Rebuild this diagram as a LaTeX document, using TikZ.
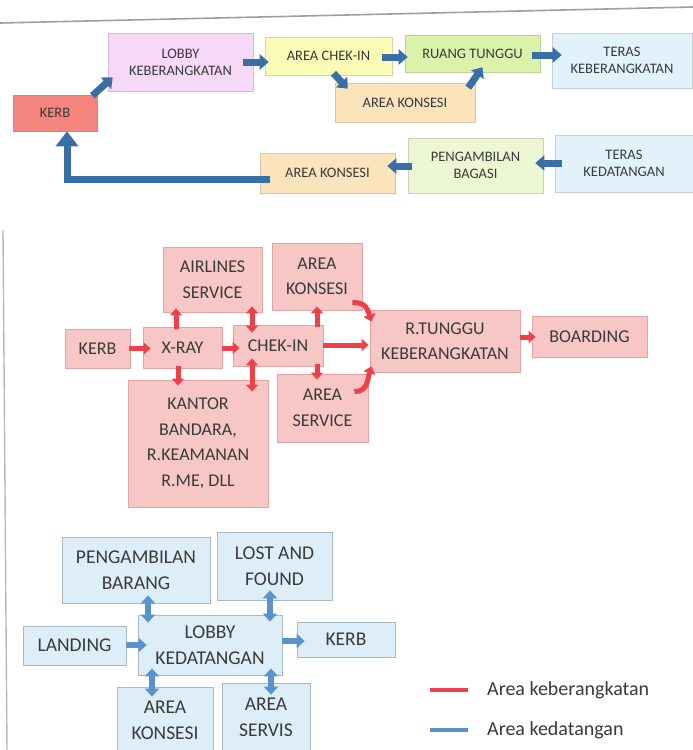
\documentclass[tikz,border=0pt]{standalone}
\usepackage{fontspec}
\setmainfont{Carlito}
\usetikzlibrary{arrows.meta,calc}
\definecolor{kerbred}{HTML}{F4857E}
\definecolor{lobbypink}{HTML}{F6D8F7}
\definecolor{chekyel}{HTML}{FAFBB4}
\definecolor{ruanggrn}{HTML}{DBF2AA}
\definecolor{terasblu}{HTML}{E1F2FB}
\definecolor{konsorg}{HTML}{FBE4BC}
\definecolor{penggrn}{HTML}{ECF6D2}
\definecolor{bluedark}{HTML}{3A6EA6}
\definecolor{midfill}{HTML}{F6C7C5}
\definecolor{midline}{HTML}{E3A3A3}
\definecolor{redarrow}{HTML}{EE3F4B}
\definecolor{botfill}{HTML}{DDEEF8}
\definecolor{botline}{HTML}{A8B9C6}
\definecolor{bluelight}{HTML}{5A92CE}
\definecolor{txt}{HTML}{3A3A3A}
\tikzset{
  tbox/.style={draw=#1!70!gray, fill=#1, line width=0.6pt, inner sep=0pt, align=center, text=txt,
    font=\fontsize{14.5}{17}\selectfont},
  mbox/.style={draw=midline, fill=midfill, line width=0.8pt, inner sep=0pt, align=center, text=txt,
    font=\fontsize{18}{25.5}\selectfont},
  bbox/.style={draw=botline, fill=botfill, line width=0.8pt, inner sep=0pt, align=center, text=txt,
    font=\fontsize{19.5}{26}\selectfont},
  ba/.style={draw=bluedark, line width=7pt, -{Triangle[width=15pt,length=9pt]}},
  bigtip/.style={draw=bluedark, line width=7pt, -{Triangle[width=22pt,length=15pt]}},
  ra/.style={draw=redarrow, line width=5pt, -{Triangle[width=12pt,length=7pt]}},
  rab/.style={draw=redarrow, line width=5pt, {Triangle[width=12pt,length=7pt]}-{Triangle[width=12pt,length=7pt]}},
  bl/.style={draw=bluelight, line width=6pt, -{Triangle[width=14pt,length=8pt]}},
  blb/.style={draw=bluelight, line width=6pt, {Triangle[width=14pt,length=8pt]}-{Triangle[width=14pt,length=8pt]}},
  legtext/.style={anchor=west, text=txt, font=\fontsize{20}{22}\selectfont, inner sep=0pt},
}
\begin{document}
\begin{tikzpicture}[x=1pt,y=-1pt]
\useasboundingbox (0,0) rectangle (693,750);
\fill[white] (0,0) rectangle (693,750);
% page edges
\coordinate (ta) at (0,23); \coordinate (tb) at (693,7);
\draw[gray!75, line width=1.6pt] (ta) -- (tb);
\coordinate (la) at (3,230); \coordinate (lb) at (7,750);
\draw[gray!55, line width=1.4pt] (la) -- (lb);

% ---------- top diagram ----------
\node[tbox=kerbred, minimum width=84pt, minimum height=36pt] (kerbT) at (55,113) {KERB};
\node[tbox=lobbypink, minimum width=145pt, minimum height=58pt] (lobbyT) at (180.5,62) {LOBBY\\KEBERANGKATAN};
\node[tbox=chekyel, minimum width=127pt, minimum height=38pt] (chekT) at (328.5,56) {AREA CHEK-IN};
\node[tbox=ruanggrn, minimum width=135pt, minimum height=37pt] (ruangT) at (472.5,53.5) {RUANG TUNGGU};
\node[tbox=terasblu, minimum width=140pt, minimum height=55pt] (terasKT) at (622,60.5) {TERAS\\KEBERANGKATAN};
\node[tbox=konsorg, minimum width=140pt, minimum height=39pt] (konsT) at (405,102.5) {AREA KONSESI};
\node[tbox=terasblu, minimum width=138pt, minimum height=57pt] (terasDT) at (624,163.5) {TERAS\\KEDATANGAN};
\node[tbox=penggrn, minimum width=135pt, minimum height=55pt] (pengT) at (475.5,165.5) {PENGAMBILAN\\BAGASI};
\node[tbox=konsorg, minimum width=135pt, minimum height=40pt] (kons2T) at (327.5,173) {AREA KONSESI};

\draw[ba] ($(kerbT.north east)+(-5,1)$) -- ($(lobbyT.south west)+(5,-14)$);
\draw[ba] ($(lobbyT.east|-0,62)+(-10,0)$) -- ($(chekT.west|-0,62)+(4,0)$);
\draw[ba] ($(chekT.east|-0,57)+(-10,0)$) -- ($(ruangT.west|-0,57)+(3,0)$);
\draw[ba] ($(ruangT.east|-0,55)+(-8,0)$) -- ($(terasKT.west|-0,55)+(10,0)$);
\draw[ba] ($(chekT.south)+(5,-2)$) -- ($(konsT.north west)+(13,6)$);
\draw[ba] ($(konsT.north east)+(-7,5)$) -- ($(ruangT.south)+(10,-5)$);
\draw[ba] ($(terasDT.west|-0,163)+(7,0)$) -- ($(pengT.east|-0,163)+(-8,0)$);
\draw[ba] ($(pengT.west|-0,166)+(4,0)$) -- ($(kons2T.east|-0,166)+(-8,0)$);
\draw[bigtip] ($(kons2T.west|-0,179)+(10,0)$) -| ($(kerbT.south)+(12,0)$);

% ---------- middle diagram ----------
\node[mbox, minimum width=65pt, minimum height=39pt] (kerbM) at (97.5,348.5) {KERB};
\node[mbox, minimum width=79pt, minimum height=41pt] (xray) at (182.5,347.5) {X-RAY};
\node[mbox, minimum width=99pt, minimum height=65pt] (airl) at (212.5,279.5) {AIRLINES\\SERVICE};
\node[mbox, minimum width=90pt, minimum height=41pt] (chekM) at (278,345.5) {CHEK-IN};
\node[mbox, minimum width=90pt, minimum height=67pt] (konsM) at (317,276.5) {AREA\\KONSESI};
\node[mbox, minimum width=91pt, minimum height=68pt] (servM) at (322.5,408) {AREA\\SERVICE};
\node[mbox, minimum width=140pt, minimum height=127pt] (kantor) at (198,443.5) {KANTOR\\BANDARA,\\R.KEAMANAN\\R.ME, DLL};
\node[mbox, minimum width=150pt, minimum height=62pt] (tunggu) at (445,341) {R.TUNGGU\\KEBERANGKATAN};
\node[mbox, minimum width=115pt, minimum height=41pt] (board) at (589.5,336.5) {BOARDING};

\draw[ra] ($(kerbM.east)+(-1,0)$) -- ($(xray.west|-kerbM.east)+(8,0)$);
\draw[ra] (xray.east|-0,348) -- ($(chekM.west|-0,348)+(7,0)$);
\draw[ra] ($(xray.north-|176,0)+(0,2)$) -- ($(airl.south-|176,0)+(0,-4)$);
\draw[ra] ($(xray.south-|178,0)+(0,-2)$) -- ($(kantor.north-|178,0)+(0,6)$);
\draw[rab] ($(chekM.north-|252,0)+(0,8)$) -- ($(airl.south-|252,0)+(0,-6)$);
\draw[rab] ($(chekM.south-|252,0)+(0,-8)$) -- ($(kantor.north-|252,0)+(0,12)$);
\draw[ra] ($(chekM.north-|317,0)+(0,2)$) -- ($(konsM.south-|317,0)+(0,-4)$);
\draw[ra] ($(chekM.south-|317,0)+(0,-2)$) -- ($(servM.north-|317,0)+(0,6)$);
\draw[ra] (chekM.east|-0,345) -- ($(tunggu.west|-0,345)+(-1,0)$);
\draw[ra] ($(konsM.south east)+(-10,-8)$) .. controls +(14,0) and +(-4,-12) .. ($(tunggu.north west)+(2,12)$);
\draw[ra] ($(servM.north east)+(-14,18)$) .. controls +(14,0) and +(-4,12) .. ($(tunggu.south west)+(2,-6)$);
\draw[ra] (tunggu.east|-0,337) -- ($(board.west|-0,337)+(4,0)$);

% ---------- bottom diagram ----------
\node[bbox, minimum width=148pt, minimum height=66pt] (pengB) at (136,570) {PENGAMBILAN\\BARANG};
\node[bbox, minimum width=115pt, minimum height=68pt] (lostB) at (274.5,566) {LOST AND\\FOUND};
\node[bbox, minimum width=103pt, minimum height=39pt] (landB) at (74.5,645.5) {LANDING};
\node[bbox, minimum width=144pt, minimum height=60pt] (lobbyB) at (210,645) {LOBBY\\KEDATANGAN};
\node[bbox, minimum width=98pt, minimum height=35pt] (kerbB) at (346,639.5) {KERB};
\node[bbox, minimum width=96pt, minimum height=66pt] (konsB) at (165,720) {AREA\\KONSESI};
\node[bbox, minimum width=88pt, minimum height=69pt] (servB) at (266,717.5) {AREA\\SERVIS};

\draw[blb] ($(pengB.south-|148,0)+(0,-8)$) -- ($(lobbyB.north-|148,0)+(0,8)$);
\draw[blb] ($(lostB.south-|270,0)+(0,-10)$) -- ($(lobbyB.north-|270,0)+(0,7)$);
\draw[bl] (landB.east|-0,645) -- ($(lobbyB.west|-0,645)+(9,0)$);
\draw[bl] (lobbyB.east|-0,641) -- ($(kerbB.west|-0,641)+(8,0)$);
\draw[blb] ($(lobbyB.south-|152,0)+(0,-7)$) -- ($(konsB.north-|152,0)+(0,10)$);
\draw[blb] ($(lobbyB.south-|271,0)+(0,-7)$) -- ($(servB.north-|271,0)+(0,12)$);

% ---------- legend ----------
\coordinate (lra) at (430,690); \coordinate (lrb) at (468,690);
\draw[redarrow, line width=4pt] (lra) -- (lrb);
\node[legtext] (legR) at (487,690) {Area keberangkatan};
\coordinate (lba) at (430,730); \coordinate (lbb) at (468,730);
\draw[bluelight, line width=4pt] (lba) -- (lbb);
\node[legtext] (legB) at (487,730) {Area kedatangan};
\end{tikzpicture}
\end{document}
